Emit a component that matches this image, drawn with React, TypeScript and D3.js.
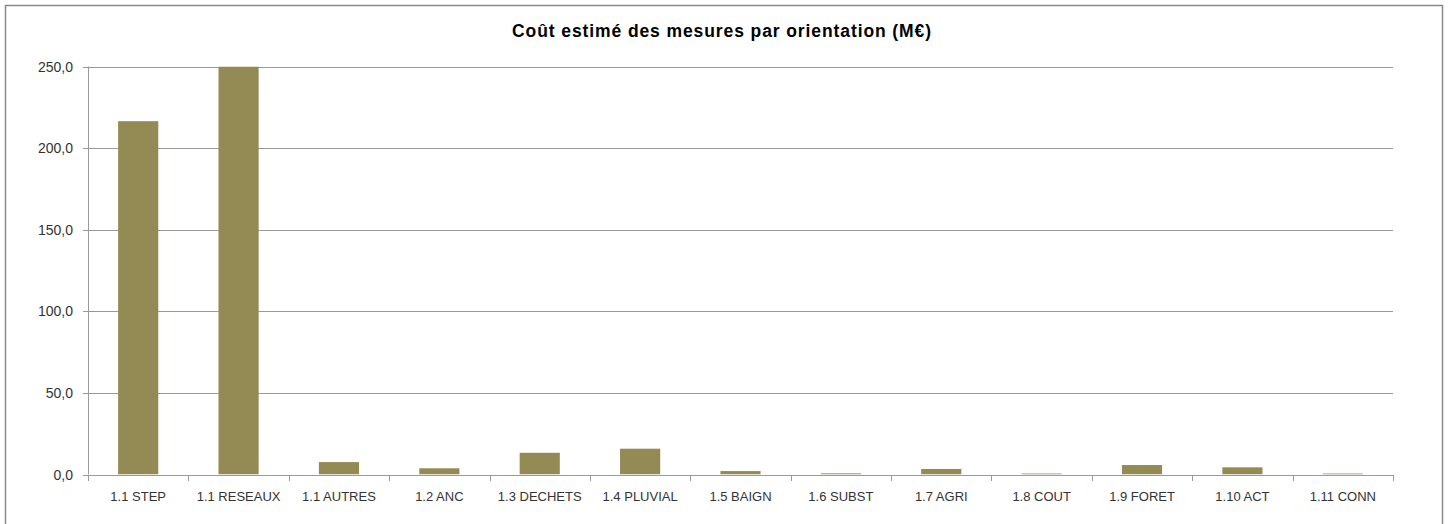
import React, { useRef, useEffect } from 'react';
import * as d3 from 'd3';

const categories = [
  '1.1 STEP',
  '1.1 RESEAUX',
  '1.1 AUTRES',
  '1.2 ANC',
  '1.3 DECHETS',
  '1.4 PLUVIAL',
  '1.5 BAIGN',
  '1.6 SUBST',
  '1.7 AGRI',
  '1.8 COUT',
  '1.9 FORET',
  '1.10 ACT',
  '1.11 CONN',
];
const values = [216.5, 250, 7.6, 3.8, 13.3, 15.8, 2.1, 0.7, 3.4, 0.6, 5.8, 4.4, 0.6];
const yTicks = [0, 50, 100, 150, 200, 250];
const title = 'Coût estimé des mesures par orientation (M€)';

const width = 1448;
const height = 524;
const margin = { top: 66.5, right: 55, bottom: 49.5, left: 88 };
const font = '"Liberation Sans", Arial, sans-serif';

const App = () => {
  const ref = useRef<SVGSVGElement>(null);

  useEffect(() => {
    const svg = d3.select(ref.current);
    svg.selectAll('*').remove();

    // outer frame
    svg
      .append('rect')
      .attr('x', 5.5)
      .attr('y', 5.5)
      .attr('width', 1437)
      .attr('height', 530)
      .attr('fill', '#fff')
      .attr('stroke', '#898989')
      .attr('stroke-width', 1.5);

    svg
      .append('text')
      .attr('x', 722)
      .attr('y', 37)
      .attr('text-anchor', 'middle')
      .attr('font-family', font)
      .attr('font-weight', 'bold')
      .attr('font-size', 17.5)
      .attr('letter-spacing', 0.9)
      .attr('fill', '#000')
      .text(title);

    const x = d3
      .scaleBand()
      .domain(categories)
      .range([margin.left, width - margin.right])
      .paddingInner(0.6)
      .paddingOuter(0.3);

    const y = d3
      .scaleLinear()
      .domain([0, 250])
      .range([height - margin.bottom, margin.top]);

    // grid
    svg
      .append('g')
      .selectAll('line')
      .data(yTicks)
      .join('line')
      .attr('x1', margin.left - 5)
      .attr('x2', width - margin.right)
      .attr('y1', (d) => Math.round(y(d)) + 0.5)
      .attr('y2', (d) => Math.round(y(d)) + 0.5)
      .attr('stroke', '#9a9a9a')
      .attr('stroke-width', 1);

    // y labels
    svg
      .append('g')
      .selectAll('text')
      .data(yTicks)
      .join('text')
      .attr('x', margin.left - 15)
      .attr('y', (d) => y(d) + 5)
      .attr('text-anchor', 'end')
      .attr('font-family', font)
      .attr('font-size', 14)
      .attr('fill', '#333')
      .text((d) => d3.format('.1f')(d).replace('.', ','));

    // bars (clipped to plot area)
    svg
      .append('defs')
      .append('clipPath')
      .attr('id', 'plot-clip')
      .append('rect')
      .attr('x', margin.left)
      .attr('y', margin.top)
      .attr('width', width - margin.left - margin.right)
      .attr('height', height - margin.top - margin.bottom);

    svg
      .append('g')
      .attr('clip-path', 'url(#plot-clip)')
      .selectAll('rect')
      .data(values)
      .join('rect')
      .attr('x', (d, i) => x(categories[i]))
      .attr('y', (d) => y(d))
      .attr('width', x.bandwidth())
      .attr('height', (d) => y(0) - y(d))
      .attr('fill', '#948a54');

    // y axis line
    svg
      .append('line')
      .attr('x1', margin.left + 0.5)
      .attr('x2', margin.left + 0.5)
      .attr('y1', margin.top)
      .attr('y2', y(0))
      .attr('stroke', '#9a9a9a');

    // x axis
    const step = x.step();
    const bounds = d3.range(categories.length + 1).map((i) => margin.left + i * step);
    svg
      .append('line')
      .attr('x1', margin.left)
      .attr('x2', width - margin.right)
      .attr('y1', Math.round(y(0)) + 0.5)
      .attr('y2', Math.round(y(0)) + 0.5)
      .attr('stroke', '#9a9a9a');
    svg
      .append('g')
      .selectAll('line')
      .data(bounds)
      .join('line')
      .attr('x1', (d) => Math.round(d) + 0.5)
      .attr('x2', (d) => Math.round(d) + 0.5)
      .attr('y1', Math.round(y(0)))
      .attr('y2', Math.round(y(0)) + 6)
      .attr('stroke', '#9a9a9a');

    svg
      .append('g')
      .selectAll('text')
      .data(categories)
      .join('text')
      .attr('x', (d) => x(d) + x.bandwidth() / 2)
      .attr('y', y(0) + 26.5)
      .attr('text-anchor', 'middle')
      .attr('font-family', font)
      .attr('font-size', 13)
      .attr('fill', '#333')
      .text((d) => d);
  }, []);

  return (
    <svg
      ref={ref}
      width={width}
      height={height}
      style={{ position: 'absolute', left: 0, top: 0, display: 'block' }}
    ></svg>
  );
};

export default App;
